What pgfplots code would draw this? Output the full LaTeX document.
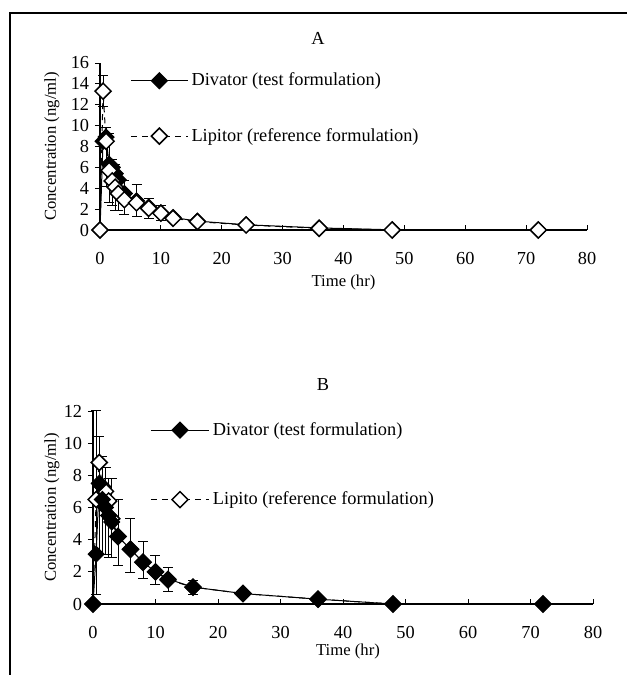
\documentclass[border=0pt]{standalone}
\usepackage{fontspec}
\setmainfont{Liberation Serif}
\usepackage{pgfplots}
\pgfplotsset{compat=1.18}

\newcommand{\lbl}{\fontsize{11}{13}\selectfont}

\pgfplotsset{
  pkaxis/.style={
    scale only axis,
    xmin=0, xmax=80, ymin=0,
    axis x line*=bottom, axis y line*=left,
    axis line style={line width=0.7pt},
    xtick={0,10,...,80},
    xtick align=inside, ytick align=outside,
    major tick length=3pt,
    tick style={black, line width=0.6pt},
    /pgf/number format/assume math mode=true,
    tick label style={font=\lbl},
    label style={font=\lbl},
    xlabel={Time (hr)},
    ylabel={Concentration (ng/ml)},
    clip=false,
    legend cell align=left,
  },
  div/.style={black, line width=0.6pt, solid, mark=square*, mark size=3.4pt,
    mark options={rotate=45, fill=black, solid}},
  lip/.style={black, line width=0.6pt, dash pattern=on 3.6pt off 3pt, mark=square*, mark size=3.4pt,
    mark options={rotate=45, fill=white, solid, line width=0.9pt}},
  ebar/.style={error bars/y dir=both, error bars/y explicit,
    error bars/error bar style={solid, line width=0.5pt},
    error bars/error mark options={rotate=90, mark size=3pt, line width=0.6pt}},
}

\begin{document}
\begin{tikzpicture}[x=0.6pt, y=0.6pt]
\useasboundingbox (0,0) rectangle (627,675);
\draw[line width=1.3pt] (10,0) -- (10,662) -- (627,662);

% panel A
\begin{axis}[pkaxis,
  at={(60pt,267pt)}, anchor=south west,
  width=292.2pt, height=100.2pt,
  ymax=16, ytick={0,2,...,16},
  xticklabel style={anchor=center, yshift=-17pt},
  every axis x label/.style={at={(rel axis cs:0.5,0)}, anchor=center, yshift=-31.2pt},
  every axis y label/.style={at={(rel axis cs:0,0.5)}, anchor=center, xshift=-28.8pt, rotate=90},
  legend image code/.code={\draw[mark repeat=2, mark phase=2, #1]
    plot coordinates {(0pt,0pt) (17pt,0pt) (34pt,0pt)};},
  legend style={at={(0.062,0.728)}, anchor=west, draw=none, fill=none,
    inner sep=0pt, row sep=20pt, font=\lbl},
]
\addlegendimage{div}
\addlegendentry{Divator (test formulation)}
\addlegendimage{lip}
\addlegendentry{Lipitor (reference formulation)}

\addplot[div, forget plot] coordinates {
  (0,0) (0.5,8.5) (1,8.9) (1.5,6.3) (2,6.0) (2.5,5.4) (3,4.8) (4,3.5) (6,2.8)
  (8,2.2) (10,1.65) (12,1.2) (16,0.85) (24,0.5) (36,0.2) (48,0.02) (72,0)
};
\addplot[lip, ebar, forget plot] coordinates {
  (0,0)
  (0.5,13.3) += (0,1.5) -= (0,1.5)
  (1,8.5) += (0,1.3) -= (0,4.3)
  (1.5,5.7) += (0,3.5) -= (0,3.1)
  (2,4.7) += (0,2.1) -= (0,2.4)
  (2.5,4.1) += (0,2.2) -= (0,2.25)
  (3,3.5) += (0,1.2) -= (0,1.6)
  (4,2.9) += (0,1.8) -= (0,1.45)
  (6,2.6) += (0,1.8) -= (0,1.3)
  (8,2.07) += (0,0.95) -= (0,0.95)
  (10,1.6) += (0,0.7) -= (0,0.7)
  (12,1.12) += (0,0.3) -= (0,0.3)
  (16,0.8) (24,0.48) (36,0.16) (48,0) (72,0)
};
\end{axis}

% panel B
\begin{axis}[pkaxis,
  at={(55.8pt,42.6pt)}, anchor=south west,
  width=300pt, height=115.8pt,
  ymax=12, ytick={0,2,...,12},
  xticklabel style={anchor=center, yshift=-16.8pt},
  every axis x label/.style={at={(rel axis cs:0.5,0)}, anchor=center, yshift=-28.4pt, xshift=3pt},
  every axis y label/.style={at={(rel axis cs:0,0.5)}, anchor=center, xshift=-24.6pt, rotate=90},
  legend image code/.code={\draw[mark repeat=2, mark phase=2, #1]
    plot coordinates {(0pt,0pt) (17.5pt,0pt) (35pt,0pt)};},
  legend style={at={(0.114,0.721)}, anchor=west, draw=none, fill=none,
    inner sep=0pt, row sep=28.5pt, font=\lbl},
]
\addlegendimage{div}
\addlegendentry{Divator (test formulation)}
\addlegendimage{lip}
\addlegendentry{Lipito (reference formulation)}

\addplot[lip, ebar, forget plot] coordinates {
  (0,0)
  (0.5,6.5) += (0,5.5) -= (0,5.9)
  (1,8.8) (1.5,7.3) (2,7.0) (2.5,6.4) (3,5.3) (4,4.2) (6,3.4) (8,2.6)
  (10,2.0) (12,1.5) (16,1.05) (24,0.65) (36,0.3) (48,0) (72,0)
};
\addplot[div, ebar, forget plot] coordinates {
  (0,0)
  (0.5,3.1)
  (1,7.5) += (0,2.9) -= (0,4.4)
  (1.5,6.5) += (0,2.7) -= (0,3.4)
  (2,6.0) += (0,2.5) -= (0,2.9)
  (2.5,5.5) += (0,2.3) -= (0,2.6)
  (3,5.1) += (0,2.7) -= (0,2.2)
  (4,4.2) += (0,2.3) -= (0,1.8)
  (6,3.4) += (0,1.9) -= (0,1.45)
  (8,2.6) += (0,1.26) -= (0,1.0)
  (10,2.0) += (0,1.0) -= (0,0.8)
  (12,1.55) += (0,0.75) -= (0,0.75)
  (16,1.05) += (0,0.44) -= (0,0.43)
  (24,0.65) += (0,0.15) -= (0,0.15)
  (36,0.3) (48,0) (72,0)
};
\end{axis}

\node[font=\lbl] at (318,637) {A};
\node[font=\lbl] at (323,290) {B};
\end{tikzpicture}
\end{document}
